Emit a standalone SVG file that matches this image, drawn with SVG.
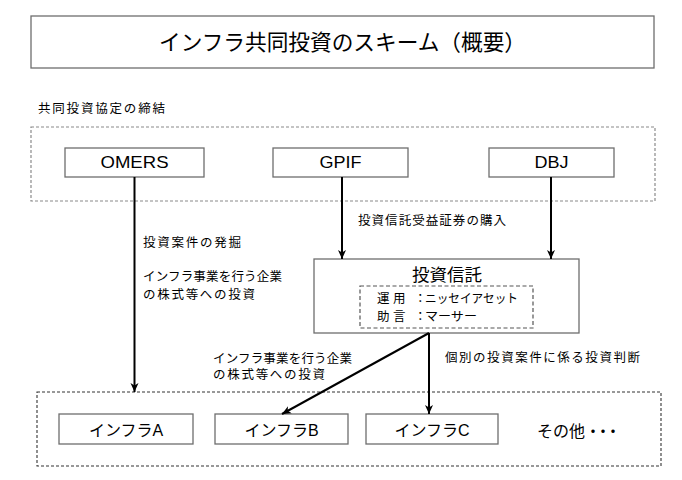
<svg xmlns="http://www.w3.org/2000/svg" width="682" height="480" viewBox="0 0 682 480">
<defs>
<marker id="ah" markerWidth="10" markerHeight="10" viewBox="0 0 10 10" refX="9" refY="5" orient="auto" markerUnits="userSpaceOnUse">
<path d="M0,1 L9,5 L0,9 L2.5,5 Z" fill="#000"/>
</marker>
<style>
.box{fill:#fff;stroke:#6e6e6e;stroke-width:1.3}
.dash{fill:none;stroke:#8a8a8a;stroke-width:1.2;stroke-dasharray:3 2}
.dashk{fill:none;stroke:#333;stroke-width:1.1;stroke-dasharray:3 2}
.dashi{fill:none;stroke:#555;stroke-width:1.2;stroke-dasharray:4 2.5}
.t{font-family:"Liberation Sans","Noto Sans CJK JP",sans-serif;fill:#000;dominant-baseline:central}
.s{font-size:12.5px}
.m{font-size:16px;text-anchor:middle}
.line{stroke:#000;stroke-width:2;fill:none}
</style>
</defs>
<rect width="682" height="480" fill="#fff"/>
<g id="title">
<rect class="box" x="31" y="16" width="623" height="52"/>
<text class="t" x="342.5" y="42" font-size="22" text-anchor="middle" textLength="367" lengthAdjust="spacingAndGlyphs">インフラ共同投資のスキーム（概要）</text>
</g>
<g id="agreement">
<text class="t s" x="38" y="109" textLength="127" lengthAdjust="spacing">共同投資協定の締結</text>
<rect class="dash" x="31" y="127" width="624" height="74"/>
</g>
<g id="omers">
<rect class="box" x="65" y="148" width="139" height="29"/>
<text class="t" x="134.5" y="162.5" font-size="17" text-anchor="middle" textLength="68" lengthAdjust="spacingAndGlyphs">OMERS</text>
</g>
<g id="gpif">
<rect class="box" x="273" y="148" width="135" height="29"/>
<text class="t" x="340.5" y="162.5" font-size="17" text-anchor="middle" textLength="42" lengthAdjust="spacingAndGlyphs">GPIF</text>
</g>
<g id="dbj">
<rect class="box" x="489" y="148" width="125" height="29"/>
<text class="t" x="551.5" y="162.5" font-size="17" text-anchor="middle" textLength="34" lengthAdjust="spacingAndGlyphs">DBJ</text>
</g>
<g id="trust">
<rect class="box" x="314" y="259" width="265" height="74"/>
<text class="t" x="447" y="275" font-size="17.5" text-anchor="middle" textLength="70" lengthAdjust="spacing">投資信託</text>
<rect class="dashi" x="360" y="286" width="173" height="42"/>
<text class="t s" y="299"><tspan x="377">運</tspan><tspan x="393">用</tspan><tspan x="414">：</tspan><tspan x="425" textLength="93" lengthAdjust="spacingAndGlyphs">ニッセイアセット</tspan></text>
<text class="t s" y="317"><tspan x="377">助</tspan><tspan x="393">言</tspan><tspan x="414">：</tspan><tspan x="425" textLength="52" lengthAdjust="spacingAndGlyphs">マーサー</tspan></text>
</g>
<g id="infra-group">
<rect class="dashk" x="37" y="392" width="624" height="74"/>
</g>
<g id="infraA">
<rect class="box" x="59" y="414" width="134" height="30"/>
<text class="t m" x="126" y="430">インフラA</text>
</g>
<g id="infraB">
<rect class="box" x="215" y="414" width="133" height="30"/>
<text class="t m" x="281.5" y="430">インフラB</text>
</g>
<g id="infraC">
<rect class="box" x="366" y="414" width="132" height="30"/>
<text class="t m" x="432" y="430">インフラC</text>
</g>
<g id="others">
<text class="t" x="537" y="431" font-size="16">その他<tspan letter-spacing="-6">・・・</tspan></text>
</g>
<g id="connectors">
<line class="line" x1="134.5" y1="177" x2="134.5" y2="392" marker-end="url(#ah)"/>
<line class="line" x1="342" y1="177" x2="342" y2="259" marker-end="url(#ah)"/>
<line class="line" x1="551" y1="177" x2="551" y2="259" marker-end="url(#ah)"/>
<line class="line" x1="429" y1="333" x2="282" y2="414" marker-end="url(#ah)"/>
<line class="line" x1="429" y1="333" x2="429" y2="414" stroke-width="1.6" marker-end="url(#ah)"/>
</g>
<g id="labels">
<text class="t s" x="358" y="221" textLength="148" lengthAdjust="spacing">投資信託受益証券の購入</text>
<text class="t s" x="143" y="243" textLength="98" lengthAdjust="spacing">投資案件の発掘</text>
<text class="t s" x="143" y="277" textLength="139" lengthAdjust="spacing">インフラ事業を行う企業</text>
<text class="t s" x="143" y="295" textLength="112" lengthAdjust="spacing">の株式等への投資</text>
<text class="t s" x="213" y="359" textLength="139" lengthAdjust="spacing">インフラ事業を行う企業</text>
<text class="t s" x="213" y="375" textLength="112" lengthAdjust="spacing">の株式等への投資</text>
<text class="t s" x="445" y="358" textLength="195" lengthAdjust="spacing">個別の投資案件に係る投資判断</text>
</g>
</svg>
